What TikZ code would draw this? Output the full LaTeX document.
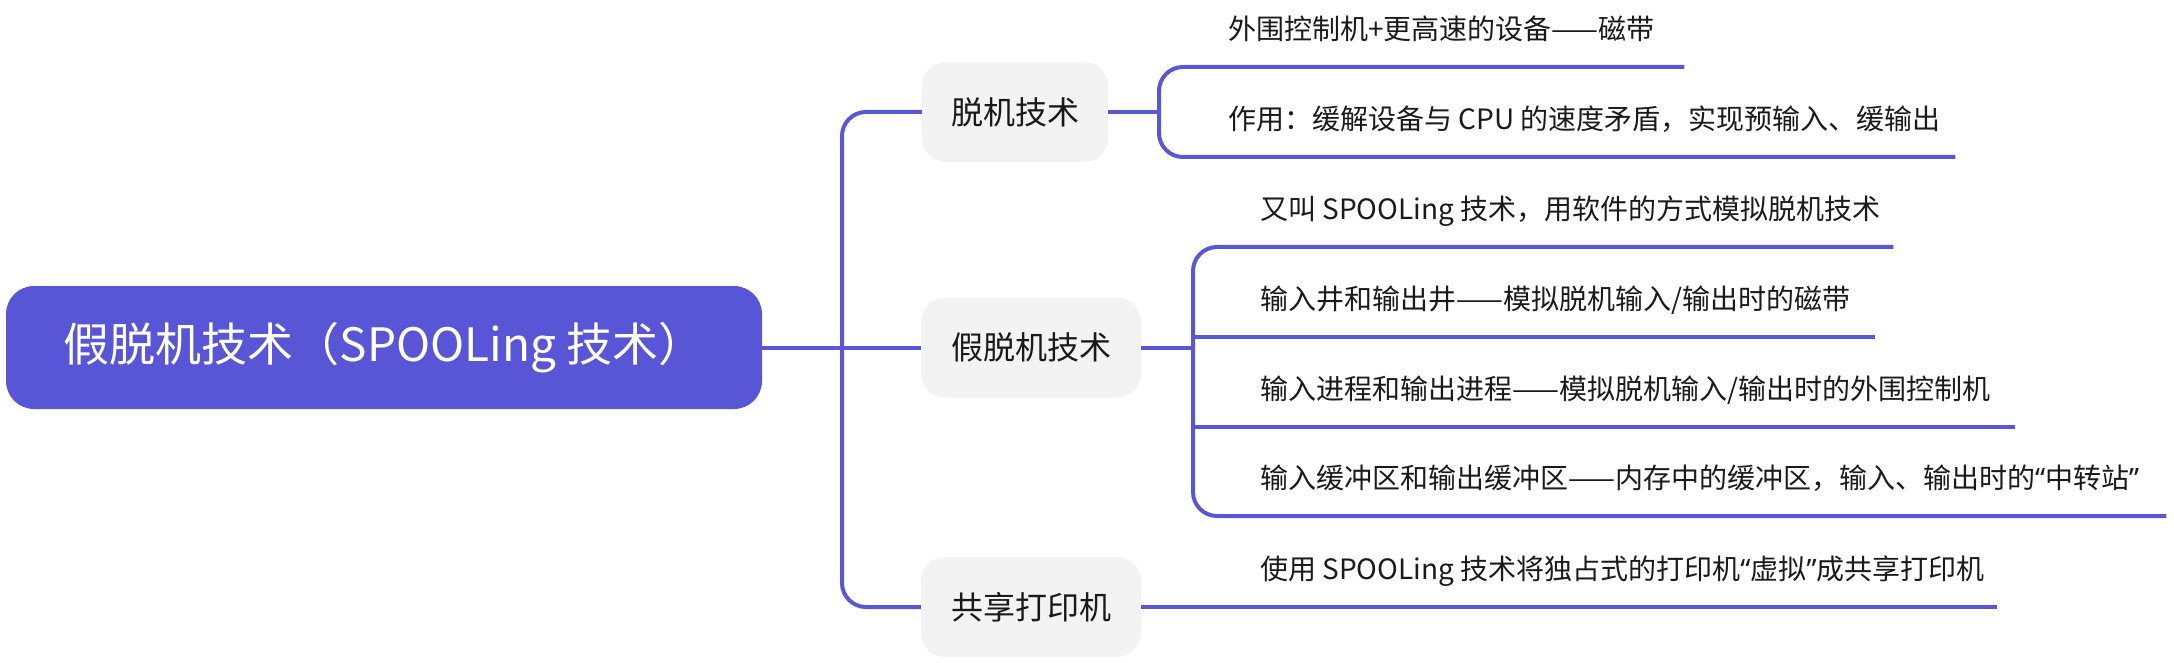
\documentclass[tikz,border=0pt]{standalone}
\usepackage{fontspec}
\setmainfont{Noto Sans CJK SC}
\newfontfamily\latinq{Noto Sans}
\newcommand{\myLq}{{\latinq “}}
\newcommand{\myRq}{{\latinq ”}}
\definecolor{lineC}{RGB}{89,87,214}
\definecolor{rootC}{RGB}{88,86,214}
\definecolor{boxC}{RGB}{243,243,243}
\definecolor{textC}{RGB}{26,26,26}
\begin{document}
\begin{tikzpicture}[x=1pt,y=-1pt,
  conn/.style={draw=lineC,line width=4pt},
  rootbox/.style={fill=rootC,rounded corners=28pt,minimum width=756pt,minimum height=123pt,inner sep=0pt,text=white,font=\fontsize{46}{54}\selectfont},
  midbox/.style={fill=boxC,rounded corners=24pt,minimum height=100pt,inner sep=0pt,text=textC,font=\fontsize{32}{38}\selectfont},
  leaf/.style={anchor=south west,inner xsep=20pt,inner ysep=0pt,align=flush left,text height=22pt,text depth=27pt,text=textC,font=\fontsize{28}{34}\selectfont}]
\useasboundingbox (0,0) rectangle (2174,663);
% root and main branches
\node[rootbox] (root) at (384,347.5) {假脱机技术（SPOOLing 技术）};
\node[midbox,minimum width=186pt] (b1) at (1015,112) {脱机技术};
\node[midbox,minimum width=220pt] (b2) at (1031,347.5) {假脱机技术};
\node[midbox,minimum width=220pt] (b3) at (1031,607) {共享打印机};
\coordinate (trunk) at (842,347.5);
\draw[conn,rounded corners=24pt] (b1.west) -| (trunk) |- (b3.west);
\draw[conn] (root.east) -- (b2.west);
% branch 1
\coordinate (j1) at (1159,112);
\node[leaf,text width=436pt] (l11) at (1208,67) {\mbox{外围控制机+更高速的设备——磁带}};
\node[leaf,text width=707pt] (l12) at (1208,157) {\mbox{作用：缓解设备与 CPU 的速度矛盾，实现预输入、缓输出}};
\draw[conn] (b1.east) -- (j1);
\draw[conn,rounded corners=24pt] (l11.south east) -| (j1) |- (l12.south east);
% branch 2
\coordinate (j2) at (1193,347.5);
\node[leaf,text width=613pt] (l21) at (1240,247) {\mbox{又叫 SPOOLing 技术，用软件的方式模拟脱机技术}};
\node[leaf,text width=595pt] (l22) at (1240,337) {\mbox{输入井和输出井——模拟脱机输入/输出时的磁带}};
\node[leaf,text width=735pt] (l23) at (1240,427) {\mbox{输入进程和输出进程——模拟脱机输入/输出时的外围控制机}};
\node[leaf,text width=886pt] (l24) at (1240,516) {\mbox{输入缓冲区和输出缓冲区——内存中的缓冲区，输入、输出时的\myLq 中转站\myRq}};
\draw[conn] (b2.east) -- (j2);
\draw[conn,rounded corners=24pt] (l21.south east) -| (j2) |- (l24.south east);
\draw[conn] (l22.south east -| j2) -- (l22.south east);
\draw[conn] (l23.south east -| j2) -- (l23.south east);
% branch 3
\node[leaf,text width=717pt] (l31) at (1240,607) {\mbox{使用 SPOOLing 技术将独占式的打印机\myLq 虚拟\myRq 成共享打印机}};
\draw[conn] (b3.east) -- (l31.south east);
\end{tikzpicture}
\end{document}
